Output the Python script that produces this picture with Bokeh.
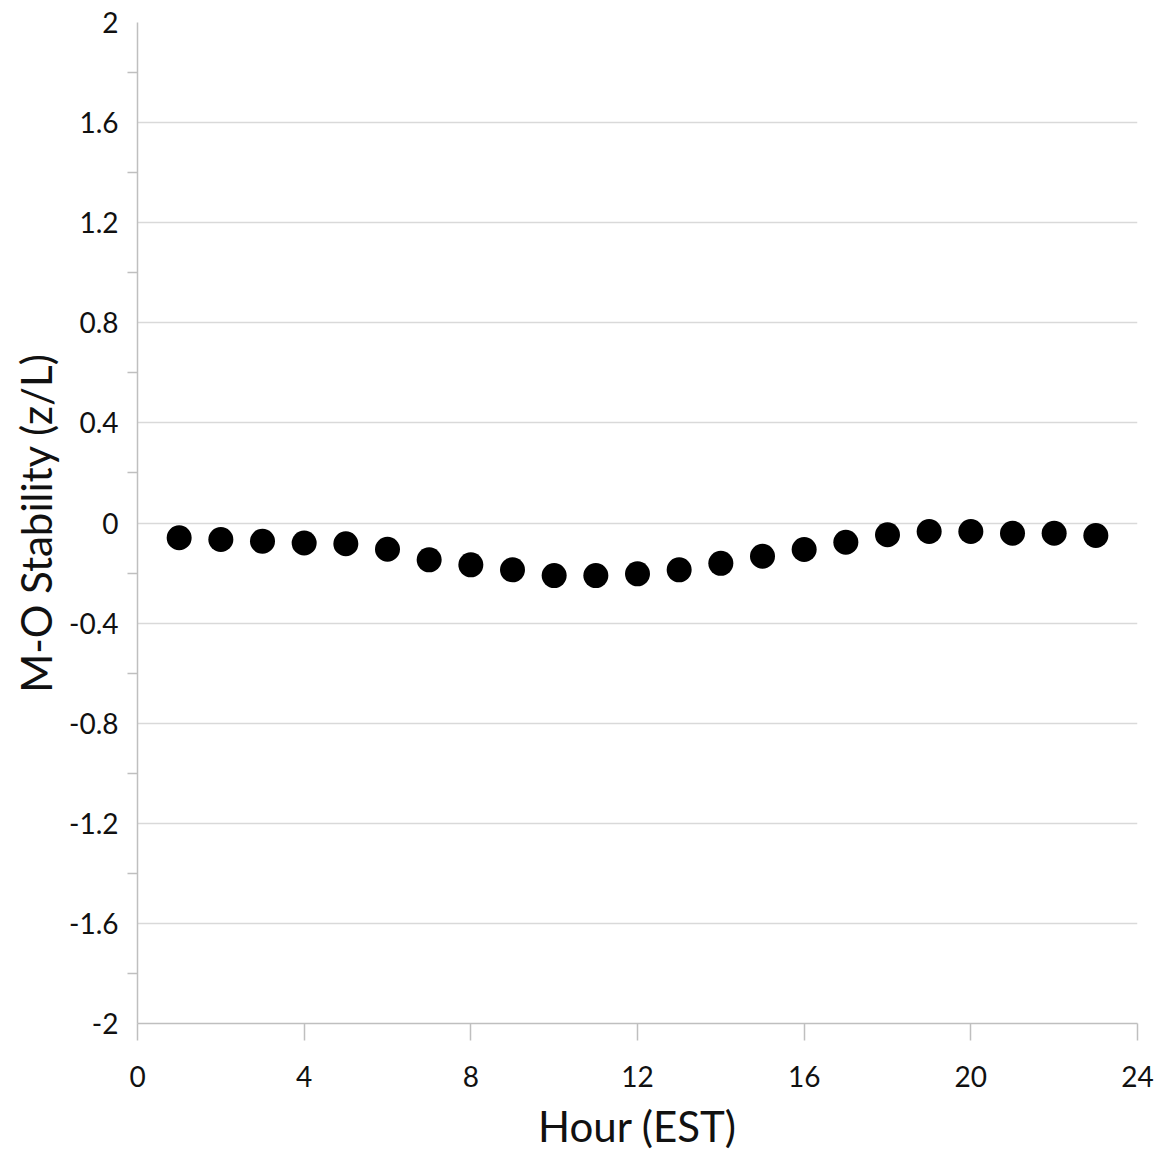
from bokeh.plotting import figure
from bokeh.models import FixedTicker, CustomJSTickFormatter, Range1d, ColumnDataSource
from bokeh.embed import file_html
from bokeh.resources import INLINE

# Data
hours = [1, 2, 3, 4, 5, 6, 7, 8, 9, 10, 11, 12, 13, 14, 15, 16, 17, 18, 19, 20, 21, 22, 23]
stability = [-0.059, -0.066, -0.073, -0.080, -0.083, -0.105, -0.147, -0.167, -0.187, -0.210, -0.210,
             -0.203, -0.187, -0.161, -0.133, -0.106, -0.077, -0.047, -0.034, -0.034, -0.041, -0.041, -0.050]
x_ticks = [0, 4, 8, 12, 16, 20, 24]
y_ticks = [-2.0, -1.6, -1.2, -0.8, -0.4, 0.0, 0.4, 0.8, 1.2, 1.6, 2.0]
y_minor = [-1.8, -1.4, -1.0, -0.6, -0.2, 0.2, 0.6, 1.0, 1.4, 1.8]

FONT = "Lato"
AXIS_GREY = "#bfbfbf"
GRID_GREY = "#d9d9d9"

p = figure(width=1158, height=1154, output_backend="svg", toolbar_location=None,
           x_range=Range1d(0, 24), y_range=Range1d(-2, 2),
           min_border_left=137, min_border_right=21, min_border_top=22, min_border_bottom=131)
p.outline_line_color = None
p.background_fill_color = "white"
p.border_fill_color = "white"

src = ColumnDataSource(dict(x=hours, y=stability))
p.scatter("x", "y", source=src, size=25, fill_color="black", line_color="black", line_width=0)

# x axis
xa = p.xaxis[0]
xa.ticker = FixedTicker(ticks=x_ticks)
xa.axis_line_color = AXIS_GREY
xa.axis_line_width = 1.5
xa.major_tick_line_color = AXIS_GREY
xa.major_tick_line_width = 1.5
xa.major_tick_out = 17
xa.major_tick_in = 0
xa.minor_tick_line_color = None
xa.major_label_standoff = 25
xa.major_label_text_font = FONT
xa.major_label_text_font_size = "28px"
xa.major_label_text_color = "#111111"
xa.axis_label = "Hour (EST)"
xa.axis_label_text_font = FONT
xa.axis_label_text_font_size = "42px"
xa.axis_label_text_font_style = "normal"
xa.axis_label_text_color = "#111111"
xa.axis_label_standoff = 11

# y axis
ya = p.yaxis[0]
ya.ticker = FixedTicker(ticks=y_ticks, minor_ticks=y_minor)
ya.formatter = CustomJSTickFormatter(code="return String(Math.round(tick*10)/10);")
ya.axis_line_color = AXIS_GREY
ya.axis_line_width = 1.5
ya.major_tick_line_color = None
ya.major_tick_out = 0
ya.major_tick_in = 0
ya.minor_tick_line_color = AXIS_GREY
ya.minor_tick_line_width = 1.5
ya.minor_tick_out = 10
ya.minor_tick_in = 0
ya.major_label_standoff = 9
ya.major_label_text_font = FONT
ya.major_label_text_font_size = "28px"
ya.major_label_text_color = "#111111"
ya.axis_label = "M-O Stability (z/L)"
ya.axis_label_text_font = FONT
ya.axis_label_text_font_size = "42px"
ya.axis_label_text_font_style = "normal"
ya.axis_label_text_color = "#111111"
ya.axis_label_standoff = 5

# grids
p.xgrid.grid_line_color = None
p.ygrid.ticker = FixedTicker(ticks=y_ticks)
p.ygrid.grid_line_color = GRID_GREY
p.ygrid.grid_line_width = 1.5

open("out.html", "w").write(file_html(p, INLINE))
